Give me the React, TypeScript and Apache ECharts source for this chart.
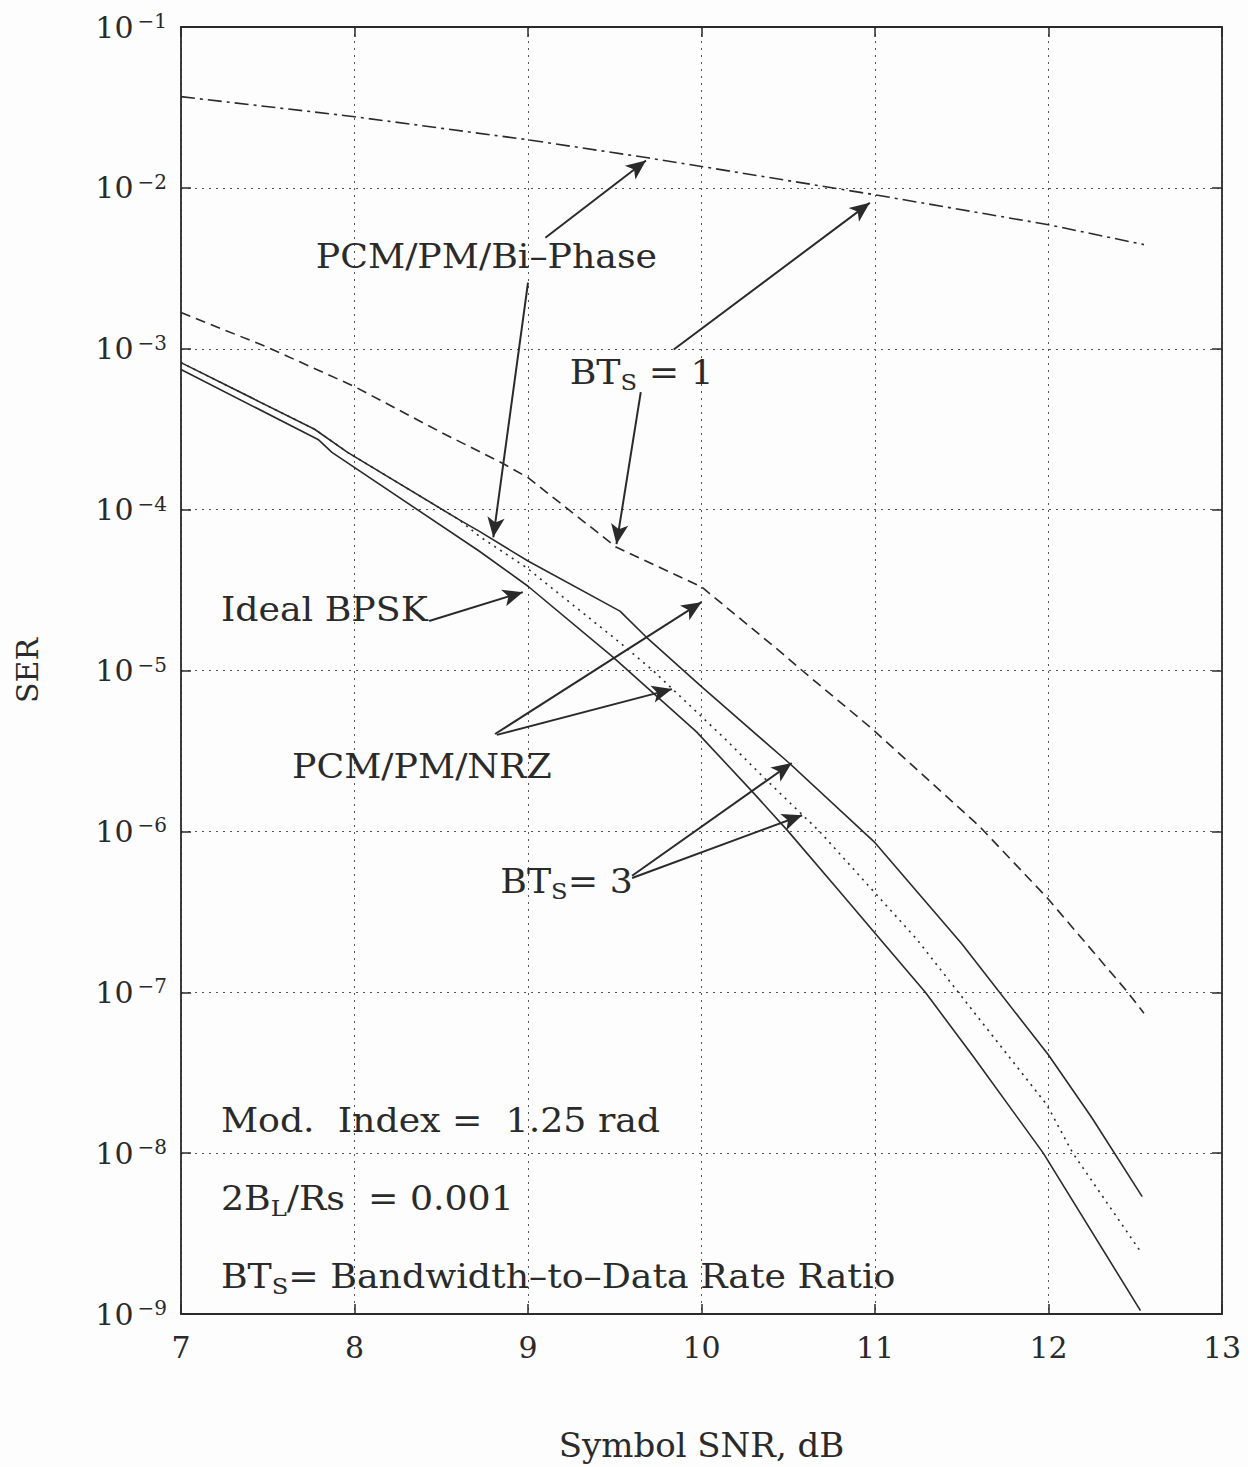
import React, { useEffect, useRef } from "react";
import * as echarts from "echarts";

// ---- data ----
const biPhaseBT1X = [7, 8, 9, 9.69, 10, 11, 12, 12.55];
const biPhaseBT1Y = [0.0369, 0.0277, 0.0199, 0.01538, 0.01358, 0.00906, 0.0059, 0.00444];

const nrzBT1X = [7, 7.5, 8, 8.5, 8.85, 9.0, 9.51, 10.0, 10.45, 10.58, 10.98, 11.6, 11.99, 12.45, 12.55];
const nrzBT1Y = [1.68e-3, 1.02e-3, 5.82e-4, 3.02e-4, 1.95e-4, 1.58e-4, 5.83e-5, 3.31e-5, 1.32e-5, 1.0e-5, 4.37e-6, 1.08e-6, 3.89e-7, 1.02e-7, 7.41e-8];

const biPhaseBT3X = [7, 7.77, 7.96, 8.6, 8.72, 9.0, 9.53, 9.68, 10.0, 10.5, 11.0, 11.5, 12.0, 12.25, 12.54];
const biPhaseBT3Y = [8.2e-4, 3.16e-4, 2.27e-4, 8.7e-5, 7.33e-5, 4.79e-5, 2.34e-5, 1.62e-5, 7.94e-6, 2.69e-6, 8.51e-7, 2.0e-7, 4.07e-8, 1.66e-8, 5.37e-9];

const nrzBT3X = [7, 7.77, 7.96, 8.6, 8.72, 8.99, 9.54, 9.72, 10.14, 10.35, 10.68, 11.24, 11.48, 11.99, 12.14, 12.53];
const nrzBT3Y = [8.2e-4, 3.16e-4, 2.27e-4, 8.7e-5, 6.82e-5, 4.37e-5, 1.46e-5, 1.0e-5, 3.72e-6, 2.21e-6, 1.0e-6, 2.14e-7, 1.0e-7, 2.0e-8, 1.0e-8, 2.45e-9];

const idealX = [7, 7.79, 7.87, 8.72, 9.0, 9.49, 9.97, 10.29, 10.5, 10.79, 11.02, 11.29, 11.56, 11.97, 12.53];
const idealY = [7.43e-4, 2.73e-4, 2.27e-4, 5.51e-5, 3.34e-5, 1.21e-5, 4.17e-6, 1.78e-6, 1.0e-6, 4.3e-7, 2.2e-7, 1.0e-7, 4.07e-8, 1.0e-8, 1.05e-9];

// annotation arrows: from (x, y) -> to (x, y)
const arrowFromX = [9.10, 9.00, 9.84, 9.65, 8.43, 8.81, 8.82, 9.60, 9.60];
const arrowFromY = [4.9e-3, 2.58e-3, 9.89e-4, 5.37e-4, 2.03e-5, 4.03e-6, 3.98e-6, 5.3e-7, 5.13e-7];
const arrowToX = [9.68, 8.80, 10.97, 9.51, 8.97, 10.0, 9.83, 10.52, 10.58];
const arrowToY = [1.48e-2, 6.73e-5, 8.07e-3, 6.1e-5, 3.07e-5, 2.66e-5, 7.66e-6, 2.66e-6, 1.26e-6];

// annotation texts (left / middle anchor in data coordinates)
const noteTexts = [
  "PCM/PM/Bi–Phase",
  "BT{s|S} = 1",
  "Ideal BPSK",
  "PCM/PM/NRZ",
  "BT{s|S}= 3",
  "Mod.  Index =  1.25 rad",
  "2B{s|L}/Rs  = 0.001",
  "BT{s|S}= Bandwidth–to–Data Rate Ratio",
];
const noteX = [7.777, 9.24, 7.23, 7.64, 8.84, 7.23, 7.23, 7.23];
const noteY = [3.73e-3, 7.11e-4, 2.4e-5, 2.51e-6, 4.86e-7, 1.6e-8, 5.24e-9, 1.72e-9];

const FONT = "DejaVu Serif";
const INK = "#2a2a2a";

const zip = (xs: number[], ys: number[]) => xs.map((x, i) => [x, ys[i]]);

export default function App() {
  const ref = useRef<HTMLDivElement>(null);
  useEffect(() => {
    if (!ref.current) return;
    const chart = echarts.init(ref.current, undefined, { renderer: "svg" });

    const supLabel = (v: number) => {
      const k = Math.round(Math.log10(v));
      return `{b|10}{s|${k < 0 ? "−" : ""}${Math.abs(k)}}`;
    };

    const lineBase = (name: string, xs: number[], ys: number[], type: any, width = 1.6) => ({
      name,
      type: "line",
      data: zip(xs, ys),
      showSymbol: false,
      symbol: "none",
      lineStyle: { color: INK, width, type },
      z: 3,
    });

    const arrowData = arrowFromX.map((fx, i) => [
      { coord: [fx, arrowFromY[i]] },
      { coord: [arrowToX[i], arrowToY[i]] },
    ]);

    const boxAxisLine = { show: true, onZero: false, lineStyle: { color: INK, width: 1.8 } };
    const innerTick = { show: true, inside: true, length: 10, lineStyle: { color: INK, width: 1.5 } };
    const grid = { show: true, lineStyle: { color: "#555", width: 1, type: [2, 5] } };

    chart.setOption({
      animation: false,
      backgroundColor: "#fdfdfd",
      textStyle: { fontFamily: FONT, color: INK },
      grid: { left: 181, right: 26, top: 27, bottom: 151, containLabel: false },
      xAxis: [
        {
          type: "value",
          min: 7,
          max: 13,
          interval: 1,
          name: "Symbol SNR, dB",
          nameLocation: "middle",
          nameGap: 114,
          nameTextStyle: { fontFamily: FONT, fontSize: 34, color: INK },
          axisLine: boxAxisLine,
          axisTick: innerTick,
          axisLabel: { fontFamily: FONT, fontSize: 30, color: INK, margin: 18 },
          splitLine: grid,
        },
        {
          type: "value",
          position: "top",
          min: 7,
          max: 13,
          interval: 1,
          axisLine: boxAxisLine,
          axisTick: innerTick,
          axisLabel: { show: false },
          splitLine: { show: false },
        },
      ],
      yAxis: [
        {
          type: "log",
          logBase: 10,
          min: 1e-9,
          max: 1e-1,
          splitNumber: 8,
          name: "SER",
          nameLocation: "middle",
          nameGap: 139,
          nameRotate: 90,
          nameTextStyle: { fontFamily: FONT, fontSize: 30, color: INK },
          axisLine: boxAxisLine,
          axisTick: innerTick,
          minorTick: { show: false },
          axisLabel: {
            margin: 14,
            formatter: supLabel,
            rich: {
              b: { fontFamily: FONT, fontSize: 30, color: INK, lineHeight: 32, verticalAlign: "middle" },
              s: { fontFamily: FONT, fontSize: 20, color: INK, lineHeight: 20, verticalAlign: "top", padding: [0, 0, 0, 4] },
            },
          },
          splitLine: grid,
        },
        {
          type: "log",
          logBase: 10,
          min: 1e-9,
          max: 1e-1,
          splitNumber: 8,
          position: "right",
          axisLine: boxAxisLine,
          axisTick: innerTick,
          minorTick: { show: false },
          axisLabel: { show: false },
          splitLine: { show: false },
        },
      ],
      series: [
        lineBase("PCM/PM/Bi-Phase, BTs = 1", biPhaseBT1X, biPhaseBT1Y, [14, 5, 3, 5]),
        lineBase("PCM/PM/NRZ, BTs = 1", nrzBT1X, nrzBT1Y, [10, 6]),
        lineBase("PCM/PM/Bi-Phase, BTs = 3", biPhaseBT3X, biPhaseBT3Y, "solid"),
        lineBase("PCM/PM/NRZ, BTs = 3", nrzBT3X, nrzBT3Y, [2, 5]),
        {
          ...lineBase("Ideal BPSK", idealX, idealY, "solid"),
          markLine: {
            silent: true,
            symbol: ["none", "arrow"],
            symbolSize: [13, 20],
            label: { show: false },
            lineStyle: { color: INK, width: 2, type: "solid" },
            data: arrowData,
          },
        },
      ],
    });

    const graphics = noteTexts.map((t, i) => {
      const p = chart.convertToPixel({ gridIndex: 0 }, [noteX[i], noteY[i]]) as number[];
      return {
        type: "text",
        x: p[0],
        y: p[1],
        scaleX: 1.1,
        z: 10,
        style: {
          text: t,
          fontFamily: FONT,
          fontSize: 33,
          fill: INK,
          align: "left",
          verticalAlign: "middle",
          lineHeight: 42,
          rich: {
            s: { fontFamily: FONT, fontSize: 22, fill: INK, lineHeight: 24, verticalAlign: "bottom" },
          },
        },
      };
    });
    chart.setOption({ graphic: graphics });

    return () => chart.dispose();
  }, []);

  return (
    <div
      ref={ref}
      style={{ position: "absolute", left: 0, top: 0, width: 1248, height: 1467 }}
    />
  );
}
